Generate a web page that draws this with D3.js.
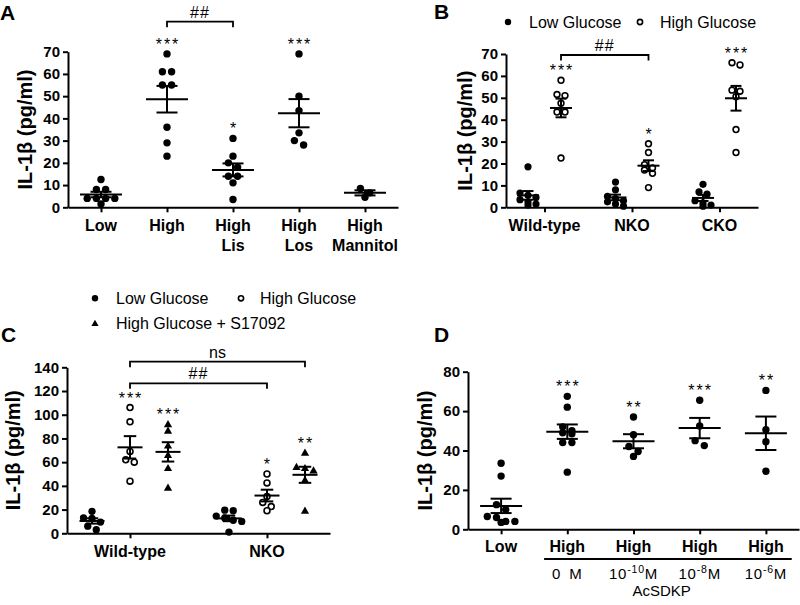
<!DOCTYPE html>
<html>
<head>
<meta charset="utf-8">
<script src="https://cdn.jsdelivr.net/npm/d3@7"></script>
<style>
  body { margin: 0; background: #fff; }
  svg { display: block; font-family: "Liberation Sans", Arial, sans-serif; }
</style>
</head>
<body>
<svg id="canvas" width="800" height="605"></svg>
<script>
// ---------- data ----------
const yLabel = "IL-1\u03b2 (pg/ml)";

// panel A
const aCategories = [["Low"], ["High"], ["High", "Lis"], ["High", "Los"], ["High", "Mannitol"]];
const aValues = [
  [12.5, 8, 8, 4, 4, 4, 4, 1.5],
  [69, 61, 61, 55, 55, 36, 29, 23],
  [31, 23, 20, 18, 14, 14, 11, 3.5],
  [69, 50, 43.5, 33.5, 30, 28],
  [8.5, 6.5, 4.5]
];
const aStars = ["", "***", "*", "***", ""];
const aTicks = [0, 10, 20, 30, 40, 50, 60, 70];

// panel B
const bCategories = [["Wild-type"], ["NKO"], ["CKO"]];
const bGroups = ["Low Glucose", "High Glucose"];
const bLow = [
  [18.5, 6.5, 5.5, 4.5, 3.5, 2.5, 1.5, 1],
  [11.5, 8, 5, 4, 3, 2.5, 1.5, 0.5],
  [10.5, 7, 6, 3, 2, 1, 0.5]
];
const bHigh = [
  [58, 51.5, 51, 47.5, 43.5, 43.5, 22.5],
  [29, 25, 19.5, 18, 17, 15.5, 9],
  [66, 65, 53.5, 53, 50.5, 35.5, 25]
];
const bLowStars = ["", "", ""];
const bHighStars = ["***", "*", "***"];
const bTicks = [0, 10, 20, 30, 40, 50, 60, 70];

// panel C
const cCategories = [["Wild-type"], ["NKO"]];
const cGroups = ["Low Glucose", "High Glucose", "High Glucose + S17092"];
const cLow = [
  [18.5, 13, 12.5, 9.5, 6, 3],
  [19.5, 19, 14.5, 13, 11, 10, 1]
];
const cHigh = [
  [106, 94, 69, 62, 60, 44],
  [50, 42.5, 31, 26, 22.5, 19]
];
const cS17092 = [
  [92, 86.5, 74, 66, 55, 38.5],
  [68, 56, 55, 53, 45, 19]
];
const cLowStars = ["", ""];
const cHighStars = ["***", "*"];
const cS17092Stars = ["***", "**"];
const cTicks = [0, 20, 40, 60, 80, 100, 120, 140];

// panel D
const dCategories = [["Low"], ["High"], ["High"], ["High"], ["High"]];
const dDoses = ["", "0 M", "10^-10M", "10^-8M", "10^-6M"];
const dDoseTitle = "AcSDKP";
const dValues = [
  [33.5, 27, 12.5, 10, 6.5, 6, 4, 4, 3.5],
  [67.5, 62, 52, 50, 49, 48.5, 44, 44, 29],
  [57, 48, 42, 39.5, 37],
  [65.5, 52.5, 45, 42.5],
  [70.5, 50.5, 44.5, 29.5]
];
const dStars = ["", "***", "**", "***", "**"];
const dTicks = [0, 20, 40, 60, 80];

// ---------- drawing ----------
const CANVAS = d3.select("#canvas");
const FONT = '"Liberation Sans", Arial, sans-serif';

/**
 * spreads the points of one group sideways so they don't pile on each other
 */
function swarm(values, y, cx, diam, gap) {
  var pts = values.map(v => ({ v: v, py: y(v) })).sort((a, b) => a.py - b.py);
  var rows = [];
  pts.forEach(p => {
    var row = rows[rows.length - 1];
    if (row && p.py - row[0].py < diam * 0.75) row.push(p);
    else rows.push([p]);
  });
  rows.forEach(row => row.forEach((p, i) => {
    p.px = cx + (i - (row.length - 1) / 2) * gap;
  }));
  return pts;
}

function drawMark(sel, shape, x, y, size) {
  if (shape === "triangle") {
    sel.append("path")
      .attr("d", d3.symbol(d3.symbolTriangle, size * size * 0.55)())
      .attr("transform", `translate(${x},${y + 0.6})`)
      .attr("fill", "#000");
  } else if (shape === "open") {
    sel.append("circle")
      .attr("cx", x).attr("cy", y).attr("r", size / 2 - 0.7)
      .attr("fill", "#fff").attr("stroke", "#000").attr("stroke-width", 1.6);
  } else {
    sel.append("circle")
      .attr("cx", x).attr("cy", y).attr("r", size / 2)
      .attr("fill", "#000");
  }
}

/**
 * draws one scatter panel with mean +/- SEM bars
 */
function drawPanel(p) {
  var g = CANVAS.append("g");

  var x = d3.scalePoint()
    .domain(d3.range(p.categories.length))
    .range([p.x0, p.x1])
    .padding(p.pad);
  var sub = d3.scalePoint()
    .domain(d3.range(p.groups.length))
    .range([-p.subW / 2, p.subW / 2])
    .padding(0.5);
  var y = d3.scaleLinear()
    .domain([0, p.ticks[p.ticks.length - 1]])
    .range([p.y0, p.y1]);

  // axes
  var ya = g.append("g")
    .attr("transform", `translate(${p.x0},0)`)
    .call(d3.axisLeft(y).tickValues(p.ticks).tickSize(5).tickSizeOuter(0).tickPadding(3));
  ya.attr("font-family", FONT).attr("font-size", 15).attr("font-weight", "bold");
  ya.selectAll("text").attr("fill", "#000");

  var xa = g.append("g")
    .attr("transform", `translate(0,${p.y0})`)
    .call(d3.axisBottom(x).tickSize(5).tickSizeOuter(0).tickFormat(""));
  xa.selectAll("text").remove();

  g.selectAll(".domain, .tick line")
    .attr("stroke", "#000").attr("stroke-width", 2);

  // category labels
  p.categories.forEach((lines, i) => {
    lines.forEach((t, k) => {
      g.append("text")
        .attr("x", x(i)).attr("y", p.y0 + p.labelGap + 20 * k)
        .attr("text-anchor", "middle").attr("dominant-baseline", "central")
        .attr("font-size", 16).attr("font-weight", "bold")
        .text(t);
    });
  });

  // y label
  g.append("text")
    .attr("transform", `translate(${p.x0 - p.yLabelGap},${(p.y0 + p.y1) / 2}) rotate(-90)`)
    .attr("text-anchor", "middle").attr("dominant-baseline", "central")
    .attr("font-size", 20).attr("font-weight", "bold")
    .text(yLabel);

  // panel letter
  g.append("text")
    .attr("x", p.letterX).attr("y", p.letterY)
    .attr("font-size", 21).attr("font-weight", "bold")
    .text(p.letter);

  // points, error bars and stars
  var hw = p.meanW;
  p.groups.forEach((grp, gi) => {
    grp.values.forEach((vals, ci) => {
      var cx = x(ci) + sub(gi);
      var pts = swarm(vals, y, cx, p.dot, p.gap);
      pts.forEach(pt => drawMark(g, grp.shape, pt.px, pt.py, p.dot));

      var m = d3.mean(vals);
      var sem = d3.deviation(vals) / Math.sqrt(vals.length);
      var bars = g.append("g").attr("stroke", "#000").attr("stroke-width", 2);
      bars.append("line").attr("x1", cx - hw).attr("x2", cx + hw).attr("y1", y(m)).attr("y2", y(m));
      bars.append("line").attr("x1", cx).attr("x2", cx).attr("y1", y(m - sem)).attr("y2", y(m + sem));
      bars.append("line").attr("x1", cx - hw / 2).attr("x2", cx + hw / 2).attr("y1", y(m - sem)).attr("y2", y(m - sem));
      bars.append("line").attr("x1", cx - hw / 2).attr("x2", cx + hw / 2).attr("y1", y(m + sem)).attr("y2", y(m + sem));

      var s = grp.stars[ci];
      if (s) {
        g.append("text")
          .attr("x", cx + 1).attr("y", y(d3.max(vals)) - 13 + 9)
          .attr("text-anchor", "middle")
          .attr("font-size", 16).attr("letter-spacing", 2)
          .text(s);
      }
    });
  });

  // comparison brackets
  (p.brackets || []).forEach(b => {
    var xa1 = x(b.from[0]) + sub(b.from[1]);
    var xa2 = x(b.to[0]) + sub(b.to[1]);
    g.append("path")
      .attr("d", `M${xa1},${b.y + 5.5}V${b.y}H${xa2}V${b.y + 5.5}`)
      .attr("fill", "none").attr("stroke", "#000").attr("stroke-width", 1.8);
    g.append("text")
      .attr("x", (xa1 + xa2) / 2).attr("y", b.y - 9.5)
      .attr("text-anchor", "middle").attr("dominant-baseline", "central")
      .attr("font-size", 16).attr("letter-spacing", b.label === "##" ? 1 : 0)
      .text(b.label);
  });

  return { g: g, x: x, y: y };
}

function drawLegend(items) {
  var g = CANVAS.append("g");
  items.forEach(it => {
    drawMark(g, it.shape, it.x, it.y, it.shape === "open" ? 6.6 : 6.4);
    g.append("text")
      .attr("x", it.tx).attr("y", it.y)
      .attr("dominant-baseline", "central")
      .attr("font-size", 16)
      .text(it.label);
  });
}

// ---- A ----
drawPanel({
  letter: "A", letterX: 0, letterY: 20,
  categories: aCategories,
  groups: [{ shape: "filled", values: aValues, stars: aStars }],
  ticks: aTicks,
  x0: 68, x1: 398, pad: 0.5, subW: 0,
  y0: 207.3, y1: 51.7,
  meanW: 21, dot: 7.4, gap: 9.2,
  labelGap: 18, yLabelGap: 43,
  brackets: [{ from: [1, 0], to: [2, 0], y: 21.7, label: "##" }]
});

// ---- B ----
drawPanel({
  letter: "B", letterX: 434, letterY: 19,
  categories: bCategories,
  groups: [
    { shape: "filled", values: bLow, stars: bLowStars },
    { shape: "open", values: bHigh, stars: bHighStars }
  ],
  ticks: bTicks,
  x0: 506, x1: 758, pad: 0.44, subW: 66,
  y0: 207.3, y1: 54,
  meanW: 11, dot: 7.2, gap: 8,
  labelGap: 18, yLabelGap: 41,
  brackets: [{ from: [0, 1], to: [1, 1], y: 55, label: "##" }]
});
drawLegend([
  { shape: "filled", x: 508, y: 22, tx: 529, label: bGroups[0] },
  { shape: "open", x: 640, y: 22, tx: 660, label: bGroups[1] }
]);

// ---- C ----
drawPanel({
  letter: "C", letterX: 1, letterY: 342,
  categories: cCategories,
  groups: [
    { shape: "filled", values: cLow, stars: cLowStars },
    { shape: "open", values: cHigh, stars: cHighStars },
    { shape: "triangle", values: cS17092, stars: cS17092Stars }
  ],
  ticks: cTicks,
  x0: 67, x1: 330, pad: 0.46, subW: 114,
  y0: 533.3, y1: 367.3,
  meanW: 12.5, dot: 7.3, gap: 8.5,
  labelGap: 18, yLabelGap: 54,
  brackets: [
    { from: [0, 1], to: [1, 2], y: 361.7, label: "ns" },
    { from: [0, 1], to: [1, 1], y: 383.3, label: "##" }
  ]
});
drawLegend([
  { shape: "filled", x: 95, y: 298.3, tx: 116, label: cGroups[0] },
  { shape: "open", x: 241, y: 298.3, tx: 260, label: cGroups[1] },
  { shape: "triangle", x: 95, y: 323.3, tx: 116, label: cGroups[2] }
]);

// ---- D ----
var D = drawPanel({
  letter: "D", letterX: 434, letterY: 342,
  categories: dCategories,
  groups: [{ shape: "filled", values: dValues, stars: dStars }],
  ticks: dTicks,
  x0: 468, x1: 799, pad: 0.5, subW: 0,
  y0: 529.3, y1: 371.7,
  meanW: 21, dot: 7.4, gap: 9.2,
  labelGap: 17, yLabelGap: 43
});

// dose row under the high glucose groups
var step = D.x.step();
D.g.append("line")
  .attr("x1", D.x(1) - step * 0.35).attr("x2", D.x(4) + step * 0.39)
  .attr("y1", 559).attr("y2", 559)
  .attr("stroke", "#000").attr("stroke-width", 2);

dDoses.forEach((d, i) => {
  if (!d) return;
  var t = D.g.append("text")
    .attr("x", D.x(i)).attr("y", 579)
    .attr("text-anchor", "middle")
    .attr("font-size", 15).attr("letter-spacing", 0.8);
  var m = d.match(/^(\d+)\^(-?\d+)(.*)$/);
  if (m) {
    t.append("tspan").text(m[1]);
    t.append("tspan").attr("font-size", 10.5).attr("dy", -6).text(m[2]);
    t.append("tspan").attr("dy", 6).text(m[3]);
  } else {
    t.text(d.replace(" ", "\u2002"));
  }
});

D.g.append("text")
  .attr("x", (D.x(2) + D.x(3)) / 2 - 5).attr("y", 596)
  .attr("text-anchor", "middle")
  .attr("font-size", 15)
  .text(dDoseTitle);
</script>
</body>
</html>
